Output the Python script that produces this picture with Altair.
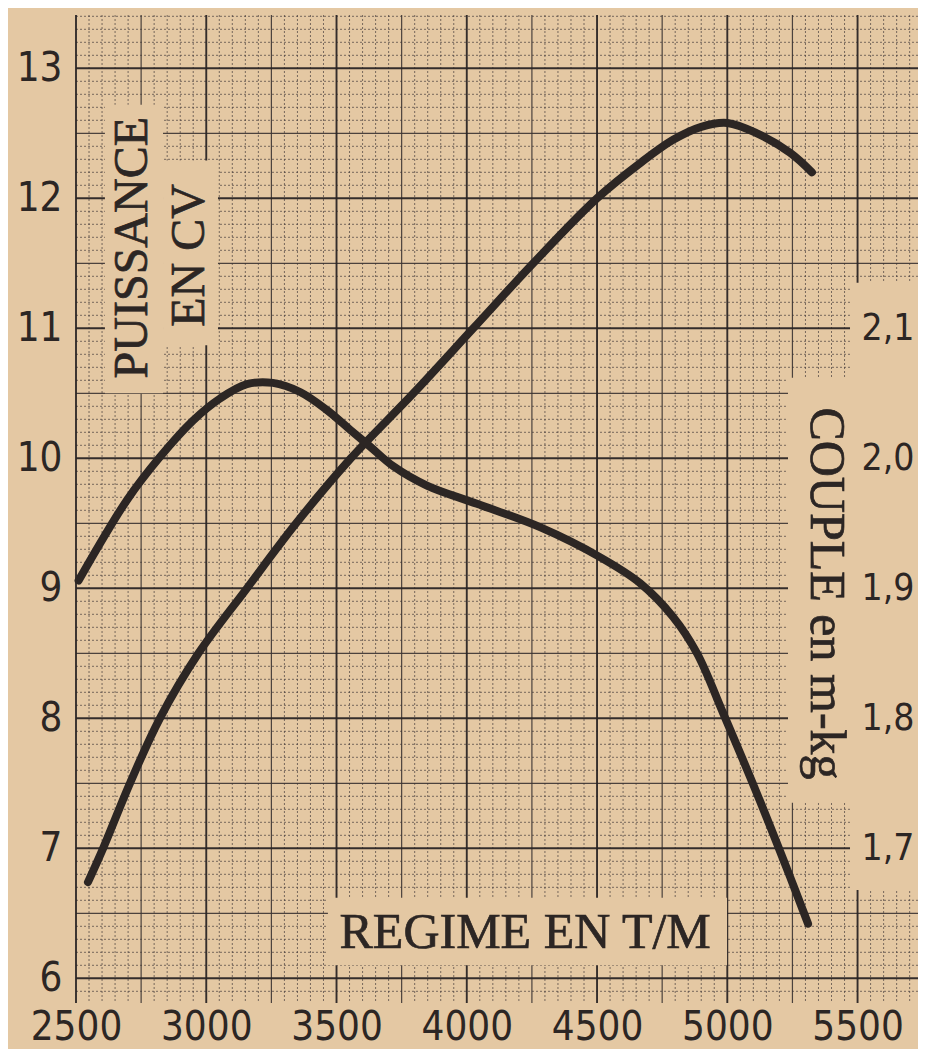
import altair as alt
import pandas as pd

# ---------------- data ----------------
# Puissance (CV) versus régime (t/min)
rpm_puissance = [2546, 2604, 2707, 2822, 2970, 3156, 3345, 3555, 3795, 4025, 4255, 4500,
                 4665, 4792, 4900, 5000, 5114, 5241, 5325]
puissance_cv = [6.74, 7.00, 7.50, 8.00, 8.50, 9.00, 9.50, 10.00, 10.50, 11.00, 11.50, 12.00,
                12.27, 12.45, 12.55, 12.58, 12.50, 12.35, 12.20]

# Couple (m-kg) versus régime (t/min)
rpm_couple = [2510, 2696, 2822, 2949, 3053, 3156, 3256, 3360, 3464, 3552, 3629, 3717, 3847,
              4039, 4281, 4511, 4665, 4792, 4884, 4984, 5114, 5241, 5310]
couple_mkg = [1.906, 1.968, 2.001, 2.029, 2.046, 2.057, 2.058, 2.051, 2.037, 2.022, 2.009,
              1.994, 1.979, 1.965, 1.947, 1.924, 1.904, 1.878, 1.850, 1.804, 1.742, 1.678, 1.642]

x_ticks = [2500, 3000, 3500, 4000, 4500, 5000, 5500]
y_ticks = [6, 7, 8, 9, 10, 11, 12, 13]
couple_ticks = [1.7, 1.8, 1.9, 2.0, 2.1]

label_text = ["PUISSANCE", "EN CV", "COUPLE en m-kg", "REGIME EN T/M"]

# ---------------- layout / style ----------------
BG = "#e4c8a3"
INK = "#2c2624"
SANS = "DejaVu Sans Condensed, DejaVu Sans, sans-serif"
SERIF = "Liberation Serif, DejaVu Serif, serif"

X_DOMAIN = [2500, 5732]
Y_DOMAIN = [5.81, 13.41]
C_DOMAIN = [2 + (Y_DOMAIN[0] - 10) / 10, 2 + (Y_DOMAIN[1] - 10) / 10]

xs = alt.Scale(domain=X_DOMAIN, nice=False, zero=False)
ys = alt.Scale(domain=Y_DOMAIN, nice=False, zero=False)
cs = alt.Scale(domain=C_DOMAIN, nice=False, zero=False)

# graph paper lines
v_major = [v for v in range(2500, 5751, 500)]
v_half = [v for v in range(2750, 5751, 500)]
v_minor = [v for v in range(2550, 5731, 50) if v % 250 != 0]
h_major = [float(v) for v in range(6, 14)]
h_half = [v + 0.5 for v in range(5, 14) if Y_DOMAIN[0] < v + 0.5 < Y_DOMAIN[1]]
h_minor = [round(5.9 + 0.1 * i, 2) for i in range(0, 76)]
h_minor = [v for v in h_minor if abs(v * 2 - round(v * 2)) > 1e-6 and v < Y_DOMAIN[1]]

# areas of the paper where the grid is blanked behind the texts
patches = pd.DataFrame({
    "x1": [2611, 2834, 5233, 5471, 3467],
    "x2": [2834, 3045, 5732, 5732, 4999],
    "y1": [10.50, 10.87, 7.35, 6.68, 6.10],
    "y2": [12.72, 12.29, 10.62, 11.35, 6.62],
})


def vrules(vals, **kw):
    return alt.Chart(pd.DataFrame({"v": vals})).mark_rule(**kw).encode(
        x=alt.X("v:Q", scale=xs, axis=None))


def hrules(vals, **kw):
    return alt.Chart(pd.DataFrame({"h": vals})).mark_rule(**kw).encode(
        y=alt.Y("h:Q", scale=ys, axis=None))


minor_style = dict(color="#423938", strokeWidth=0.9, strokeDash=[2, 2], opacity=0.75)
half_style = dict(color="#3a3332", strokeWidth=1.2, opacity=0.9)
major_style = dict(color="#2a2525", strokeWidth=1.9, opacity=0.95)

grid = [
    vrules(v_minor, **minor_style), hrules(h_minor, **minor_style),
    vrules(v_half, **half_style), hrules(h_half, **half_style),
    vrules(v_major, **major_style), hrules(h_major, **major_style),
]

blank = alt.Chart(patches).mark_rect(fill=BG).encode(
    x=alt.X("x1:Q", scale=xs, axis=None), x2="x2:Q",
    y=alt.Y("y1:Q", scale=ys, axis=None), y2="y2:Q")

labels = pd.DataFrame({
    "t": label_text,
    "x": [2719, 2938, 5379, 4224],
    "y": [11.62, 11.56, 8.96, 6.35],
    "a": [270, 270, 90, 0],
    "s": [48, 48, 50, 50],
})

texts = alt.Chart(labels).mark_text(
    font=SERIF, color=INK, baseline="middle", align="center",
    stroke=INK, strokeWidth=0.7).encode(
    x=alt.X("x:Q", scale=xs, axis=None),
    y=alt.Y("y:Q", scale=ys, axis=None),
    text="t:N",
    angle=alt.Angle("a:Q", scale=None),
    size=alt.Size("s:Q", scale=None, legend=None),
)

power = alt.Chart(pd.DataFrame({"rpm": rpm_puissance, "cv": puissance_cv})).mark_line(
    color=INK, strokeWidth=8, interpolate="catmull-rom", strokeCap="round").encode(
    x=alt.X("rpm:Q", scale=xs, axis=alt.Axis(
        orient="bottom", values=x_ticks, format="d", title=None, ticks=False, domain=False,
        grid=False, labelFont=SANS, labelFontSize=40, labelColor=INK, labelPadding=4,
        labelFlush=False, labelOverlap=False, zindex=5)),
    y=alt.Y("cv:Q", scale=ys, axis=alt.Axis(
        orient="left", values=y_ticks, format="d", title=None, ticks=False, domain=False,
        grid=False, labelFont=SANS, labelFontSize=40, labelColor=INK, labelPadding=14,
        labelFlush=False, labelOverlap=False, zindex=5)),
)

torque = alt.Chart(pd.DataFrame({"rpm": rpm_couple, "c": couple_mkg})).mark_line(
    color=INK, strokeWidth=8, interpolate="catmull-rom", strokeCap="round").encode(
    x=alt.X("rpm:Q", scale=xs, axis=None),
    y=alt.Y("c:Q", scale=cs, axis=alt.Axis(
        orient="right", values=couple_ticks, title=None, ticks=False, domain=False, grid=False,
        labelFont=SANS, labelFontSize=37, labelColor=INK, labelPadding=0, offset=-57,
        labelAlign="left", labelFlush=False, labelOverlap=False, zindex=5,
        labelExpr="replace(format(datum.value, '.1f'), '.', ',')")),
)

chart = alt.layer(*grid, blank, texts, power, torque).resolve_scale(
    x="independent", y="independent").properties(
    width=842, height=988,
    padding={"left": 68, "top": 7, "right": 0, "bottom": 46},
    autosize=alt.AutoSizeParams(type="none"),
    background=BG,
).configure_view(stroke=None, fill=BG)

chart.save("out.html", embed_options={"renderer": "svg", "actions": False})
